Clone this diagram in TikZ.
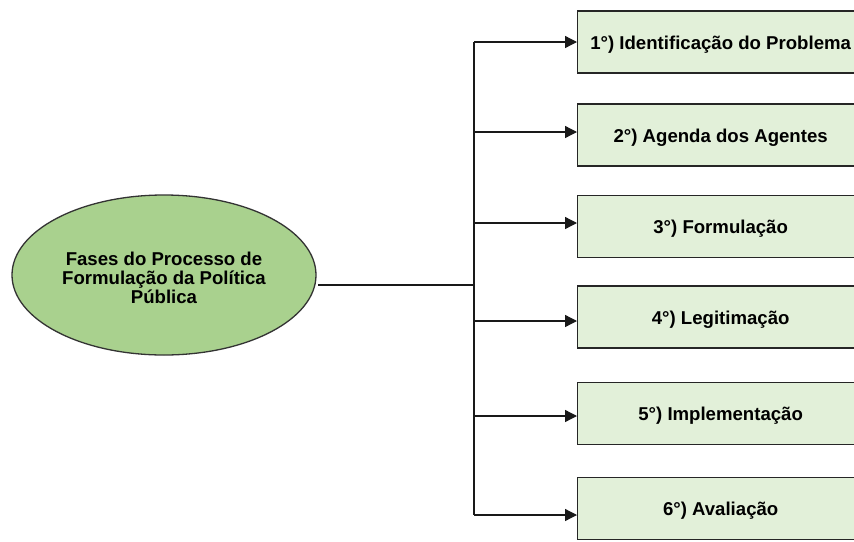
\documentclass[tikz,border=0pt]{standalone}
\usepackage{fontspec}
\setmainfont{Liberation Sans}
\usetikzlibrary{arrows.meta,shapes.geometric}
\definecolor{boxgreen}{HTML}{E2F0D9}
\definecolor{ellgreen}{HTML}{A9D18E}
\begin{document}
\begin{tikzpicture}[x=1pt,y=-1pt,
  stagebox/.style={draw=black!85, line width=1.3pt, fill=boxgreen, minimum width=286pt,
    minimum height=62pt, inner sep=0pt, anchor=west, text height=18pt, text depth=3.4pt,
    font=\bfseries\fontsize{18.6}{19}\selectfont, text=black},
  hub/.style={ellipse, draw=black!80, line width=1.3pt, fill=ellgreen, minimum width=304pt,
    minimum height=160pt, inner sep=0pt, align=center,
    font=\bfseries\fontsize{18.6}{19}\selectfont, text=black},
  link/.style={draw=black!90, line width=1.3pt},
  arr/.style={link, -{Triangle[length=12pt,width=12pt]}}]
\useasboundingbox (0,0) rectangle (854,541);
\clip (0,0) rectangle (854,541);
\fill[white] (0,0) rectangle (854,541);

\node[hub] (e) at (164,275) {\raisebox{-10pt}[0pt][0pt]{\begin{tabular}{@{}c@{}}Fases do Processo de\\Formulação da Política\\Pública\end{tabular}}};

\node[stagebox] (b1) at (577,42) {1°) Identificação do Problema};
\node[stagebox] (b2) at (577,135) {2°) Agenda dos Agentes};
\node[stagebox] (b3) at (577,226.5) {3°) Formulação};
\node[stagebox] (b4) at (577,317) {4°) Legitimação};
\node[stagebox] (b5) at (577,413.5) {5°) Implementação};
\node[stagebox] (b6) at (577,508.5) {6°) Avaliação};

\coordinate (s) at (318,285);
\coordinate (j) at (474,285);
\coordinate (t1) at (474,42);
\coordinate (t6) at (474,515);

\draw[link] (s) -- (j);
\draw[link] (t1) -- (t6);
\draw[arr] (t1) -- (b1.west |- t1);
\draw[arr] (474,132) coordinate (t2) -- (b2.west |- t2);
\draw[arr] (474,223) coordinate (t3) -- (b3.west |- t3);
\draw[arr] (474,321) coordinate (t4) -- (b4.west |- t4);
\draw[arr] (474,416) coordinate (t5) -- (b5.west |- t5);
\draw[arr] (t6) -- (b6.west |- t6);
\end{tikzpicture}
\end{document}
